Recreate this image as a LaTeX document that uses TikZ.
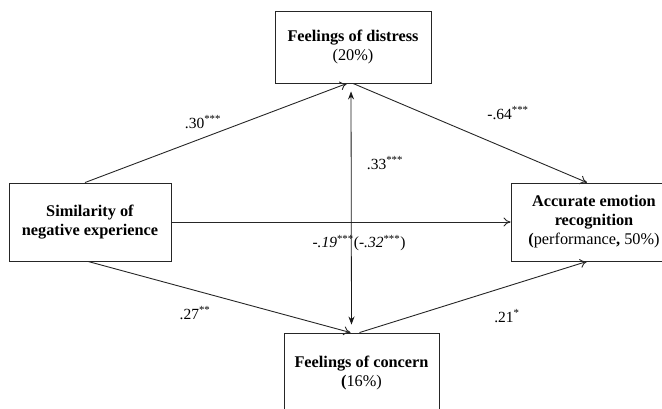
\documentclass[tikz,border=0pt]{standalone}
\usepackage{fontspec}
\setmainfont{Liberation Serif}
\usetikzlibrary{arrows.meta}

\begin{document}
\begin{tikzpicture}[x=1pt, y=-1pt,
    box/.style={draw=black!85, line width=0.9pt, align=center, inner sep=0pt, font=\fontsize{16.3}{19}\selectfont},
    path/.style={-{To[length=7pt,width=9pt]}, line width=0.9pt, black!85},
    both/.style={{Stealth[length=8pt,width=6pt]}-{Stealth[length=8pt,width=6pt]}, line width=0.8pt, black!90, shorten <=8pt, shorten >=8pt},
    coef/.style={font=\fontsize{15.5}{18}\selectfont, inner sep=1pt}
]
\useasboundingbox (0,0) rectangle (662,409);
\clip (0,0) rectangle (662,409);

\node[box, minimum width=156pt, minimum height=72pt] (dist) at (353,47) {\textbf{Feelings of distress}\\(20\%)};
\node[box, minimum width=162pt, minimum height=78pt] (sim) at (90,222) {\textbf{Similarity of}\\\textbf{negative experience}};
\node[box, minimum width=166pt, minimum height=78pt] (acc) at (594,222) {\textbf{Accurate emotion}\\\textbf{recognition}\\\textbf{(}performance\textbf{,} 50\%)};
\node[box, minimum width=155pt, minimum height=80pt] (conc) at (361.5,373) {\textbf{Feelings of concern}\\\textbf{(}16\%)};

\draw[path] ([xshift=-5pt]sim.north) -- ([xshift=-6pt]dist.south);
\draw[path] ([xshift=-2pt]sim.south) -- ([xshift=-11pt]conc.north);
\draw[path] (dist.south) -- ([xshift=-7pt]acc.north);
\draw[path] ([xshift=-2pt]conc.north) -- ([xshift=-7pt]acc.south);
\draw[path] (sim.east) -- (acc.west);
\draw[both] ([xshift=-2pt]dist.south) -- ([xshift=-10pt]conc.north);

\node[coef] (c1) at (203,122) {.30\textsuperscript{***}};
\node[coef] (c2) at (508,113) {-.64\textsuperscript{***}};
\node[coef] (c3) at (385,163) {.33\textsuperscript{***}};
\node[coef] (c4) at (359,243) {\textit{-.19}\textsuperscript{***}(\textit{-.32}\textsuperscript{***})};
\node[coef] (c5) at (195,313) {.27\textsuperscript{**}};
\node[coef] (c6) at (507,316) {.21\textsuperscript{*}};
\end{tikzpicture}
\end{document}
